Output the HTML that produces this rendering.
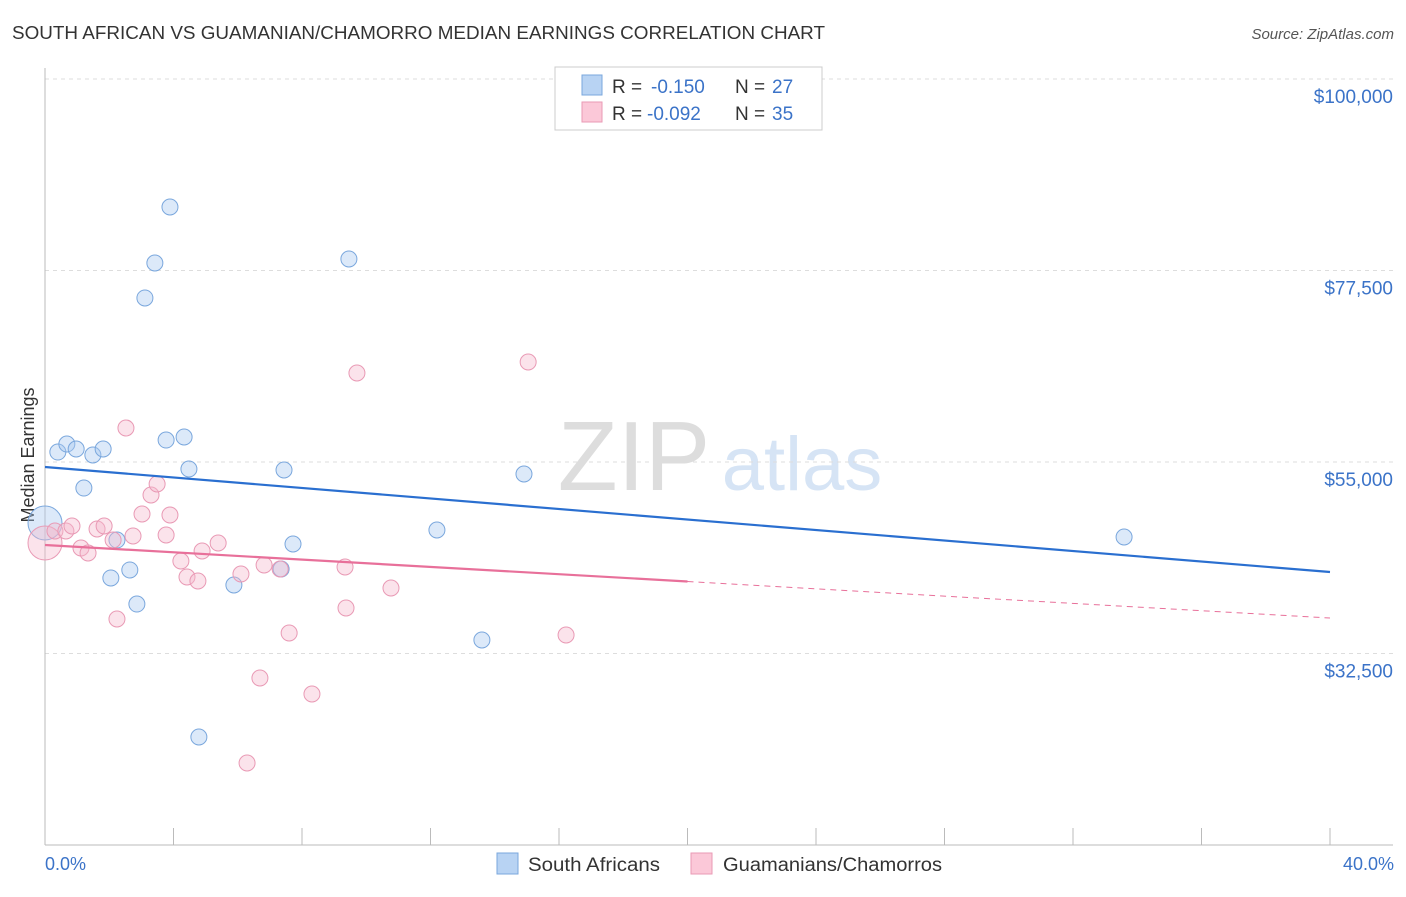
<!DOCTYPE html>
<html><head><meta charset="utf-8"><style>
body{margin:0;background:#fff;font-family:"Liberation Sans",sans-serif;}
svg text{font-family:"Liberation Sans",sans-serif;}
</style></head><body>
<svg id="c" width="1406" height="892">
<text x="12" y="39" font-size="18" fill="#333" textLength="813" lengthAdjust="spacingAndGlyphs">SOUTH AFRICAN VS GUAMANIAN/CHAMORRO MEDIAN EARNINGS CORRELATION CHART</text>
<text x="1394" y="39" font-size="15" fill="#555" font-style="italic" text-anchor="end">Source: ZipAtlas.com</text>
<text x="634" y="490" font-size="98" fill="#ddd" font-family="Liberation Serif" text-anchor="middle">ZIP</text>
<text x="802" y="490" font-size="76" fill="#d6e4f5" text-anchor="middle">atlas</text>
<text transform="translate(34,455) rotate(-90)" font-size="18" fill="#333" text-anchor="middle">Median Earnings</text>
<g id="grid"></g><g id="marks"></g>
<text x="45" y="870" font-size="18" fill="#3b73c8">0.0%</text>
<text x="1394" y="870" font-size="18" fill="#3b73c8" text-anchor="end">40.0%</text>
<g>
<rect x="555" y="67" width="267" height="63" fill="#fff" stroke="#ccc"/>
<rect x="582" y="75" width="20" height="20" fill="#b8d3f3" stroke="#7aa7dd"/>
<rect x="582" y="102" width="20" height="20" fill="#fbc8d8" stroke="#e99ab5"/>
<text y="93" font-size="19" fill="#333"><tspan x="612">R =</tspan><tspan x="651" fill="#3b73c8">-0.150</tspan><tspan x="735">N =</tspan><tspan x="772" fill="#3b73c8">27</tspan></text>
<text y="120" font-size="19" fill="#333"><tspan x="612">R =</tspan><tspan x="647" fill="#3b73c8">-0.092</tspan><tspan x="735">N =</tspan><tspan x="772" fill="#3b73c8">35</tspan></text>
</g>
<g>
<rect x="497" y="853" width="21" height="21" fill="#b8d3f3" stroke="#7aa7dd"/>
<text x="528" y="871" font-size="19" fill="#333" textLength="132" lengthAdjust="spacingAndGlyphs">South Africans</text>
<rect x="691" y="853" width="21" height="21" fill="#fbc8d8" stroke="#e99ab5"/>
<text x="723" y="871" font-size="19" fill="#333" textLength="219" lengthAdjust="spacingAndGlyphs">Guamanians/Chamorros</text>
</g>
</svg>
<script>
const yTicks=[100000,77500,55000,32500];
const yTickLabels=["$100,000","$77,500","$55,000","$32,500"];
const blueX=[0,0.40,0.68,0.97,1.49,1.81,1.21,2.24,2.05,2.64,2.86,3.11,3.42,3.89,3.77,4.33,4.48,4.79,5.88,7.35,7.44,7.72,9.46,12.20,13.60,14.91,33.59];
const blueY=[47830,56170,57110,56525,55820,56525,51940,45830,41370,42310,38310,74270,78380,84960,57580,57935,54175,22685,40545,42425,54057,45362,78850,47007,34082,53587,46185];
const pinkX=[0,0.31,0.65,0.84,1.12,1.34,1.62,1.84,2.12,2.24,2.52,2.74,3.02,3.30,3.49,3.77,3.89,4.23,4.42,4.76,4.89,5.39,6.10,6.29,6.69,6.82,7.32,7.60,8.31,9.34,9.37,9.71,10.77,15.04,16.22];
const pinkY=[45480,46890,46890,47477,44892,44305,47125,47477,45833,36550,58992,46302,48887,51120,52412,46420,48770,43365,41485,41015,44540,45480,41837,19630,29617,42895,42425,34905,27737,42660,37842,65455,40192,66747,34670];
const blueTrend=[54410,42072];
const pinkTrend=[45245,36667];
const X=p=>45+p*32.125, Y=v=>79+(100000-v)/117.5;
const NS="http://www.w3.org/2000/svg";
function mk(t,a,parent){const e=document.createElementNS(NS,t);for(const k in a)e.setAttribute(k,a[k]);parent.appendChild(e);return e;}
const g=document.getElementById('grid'),m=document.getElementById('marks');
yTicks.forEach((v,i)=>{
 const l=mk('line',{x1:45,x2:1393,y1:Y(v),y2:Y(v),stroke:'#ddd','stroke-dasharray':'4,4'},g);
 
 
 const t=mk('text',{x:1393,y:Y(v)+24,'font-size':19,fill:'#3b73c8','text-anchor':'end'},g);
 t.textContent=yTickLabels[i];
 
 
});
const ax=mk('line',{x1:45,x2:45,y1:68,y2:845,stroke:'#bbb'},g);


const bx=mk('line',{x1:45,x2:1393,y1:845,y2:845,stroke:'#bbb'},g);


for(let i=0;i<=10;i++){const t=mk('line',{x1:X(i*4),x2:X(i*4),y1:828,y2:845,stroke:'#bbb'},g);
 
 }
function pts(xs,ys,fill,stroke,name){xs.forEach((x,i)=>{
 const c=mk('circle',{cx:X(x),cy:Y(ys[i]),r:i==0?17:8,fill:fill,'fill-opacity':0.4,stroke:stroke,'stroke-width':1},m);
 
 });}
pts(blueX,blueY,'#a8c8f0','#7aa7dd','south-african-point');
pts(pinkX,pinkY,'#f5b8cc','#e99ab5','guamanian-point');
let l=mk('line',{x1:X(0),y1:Y(blueTrend[0]),x2:X(40),y2:Y(blueTrend[1]),stroke:'#2a6fd0','stroke-width':2.2},m);


const pm=pinkTrend[0]+(pinkTrend[1]-pinkTrend[0])*0.5;
l=mk('line',{x1:X(0),y1:Y(pinkTrend[0]),x2:X(20),y2:Y(pm),stroke:'#e8709a','stroke-width':2.2},m);


l=mk('line',{x1:X(20),y1:Y(pm),x2:X(40),y2:Y(pinkTrend[1]),stroke:'#e8709a','stroke-width':1,'stroke-dasharray':'6,5'},m);


</script>
</body></html>
